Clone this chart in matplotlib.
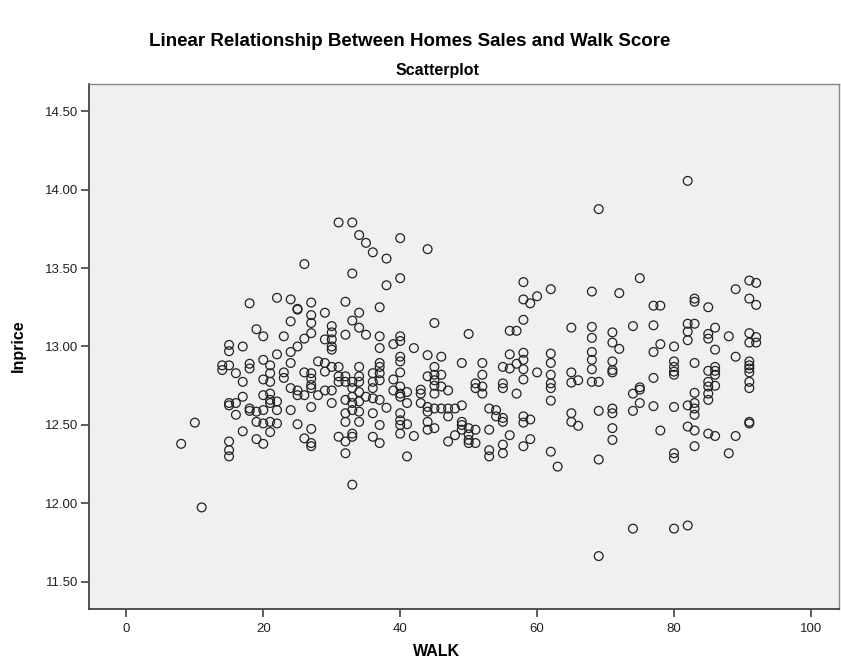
import matplotlib
matplotlib.use("Agg")
import matplotlib.pyplot as plt

# walk score columns and the lnprice values for each column
walk_scores = [8, 10, 11, 14, 15, 16, 17, 18, 19, 20,
               21, 22, 23, 24, 25, 26, 27, 28, 29, 30,
               31, 32, 33, 34, 35, 36, 37, 38, 39, 40,
               41, 42, 43, 44, 45, 46, 47, 48, 49, 50,
               51, 52, 53, 54, 55, 56, 57, 58, 59, 60,
               62, 63, 65, 66, 68, 69, 71, 72, 74, 75,
               77, 78, 80, 82, 83, 85, 86, 88, 89, 91, 92]

lnprice_by_walk = [
    [12.38],
    [12.515],
    [11.975],
    [12.88, 12.85],
    [13.01, 12.97, 12.88, 12.64, 12.625, 12.395, 12.34, 12.30],
    [12.83, 12.64, 12.565],
    [13.00, 12.775, 12.68, 12.46],
    [13.275, 12.89, 12.86, 12.605, 12.59],
    [13.11, 12.585, 12.52, 12.41],
    [13.065, 12.915, 12.79, 12.69, 12.595, 12.51, 12.38],
    [12.88, 12.83, 12.775, 12.70, 12.66, 12.64, 12.52, 12.455],
    [13.31, 12.95, 12.65, 12.595, 12.51],
    [13.065, 12.835, 12.80],
    [13.30, 13.16, 12.965, 12.895, 12.735, 12.595],
    [13.24, 13.235, 13.00, 12.72, 12.69, 12.505],
    [13.525, 13.05, 12.835, 12.69, 12.415],
    [13.28, 13.20, 13.15, 13.085, 12.83, 12.795, 12.755, 12.735, 12.615, 12.475, 12.385, 12.365],
    [12.905, 12.69],
    [13.215, 13.045, 12.895, 12.84, 12.72],
    [13.13, 13.09, 13.045, 13.00, 12.98, 12.87, 12.72, 12.64],
    [13.79, 12.87, 12.81, 12.775, 12.425],
    [13.285, 13.075, 12.81, 12.775, 12.66, 12.575, 12.52, 12.395, 12.32],
    [13.79, 13.465, 13.165, 12.775, 12.735, 12.68, 12.64, 12.595, 12.445, 12.425, 12.12],
    [13.71, 13.215, 13.12, 12.87, 12.81, 12.775, 12.71, 12.65, 12.585, 12.52],
    [13.66, 13.075, 12.68],
    [13.60, 12.83, 12.775, 12.735, 12.67, 12.575, 12.425],
    [13.25, 13.065, 12.99, 12.895, 12.87, 12.83, 12.785, 12.66, 12.50, 12.385],
    [13.56, 13.39, 12.61],
    [13.015, 12.79, 12.72],
    [13.69, 13.435, 13.065, 13.035, 12.935, 12.905, 12.835, 12.745, 12.70, 12.68, 12.575, 12.53, 12.50, 12.445],
    [12.71, 12.64, 12.505, 12.30],
    [12.99, 12.43],
    [12.725, 12.70, 12.64],
    [13.62, 12.945, 12.81, 12.615, 12.585, 12.52, 12.47],
    [13.15, 12.87, 12.82, 12.785, 12.75, 12.70, 12.605, 12.48],
    [12.935, 12.82, 12.745, 12.605],
    [12.72, 12.605, 12.555, 12.395],
    [12.605, 12.435],
    [12.895, 12.625, 12.52, 12.50, 12.47],
    [13.08, 12.48, 12.44, 12.405, 12.385],
    [12.765, 12.735, 12.47, 12.385],
    [12.895, 12.82, 12.745, 12.70],
    [12.605, 12.47, 12.34, 12.30],
    [12.595, 12.555],
    [12.87, 12.765, 12.735, 12.545, 12.52, 12.375, 12.32],
    [13.10, 12.95, 12.86, 12.435],
    [13.10, 12.89, 12.70],
    [13.41, 13.30, 13.17, 12.96, 12.915, 12.855, 12.79, 12.555, 12.515, 12.365],
    [13.275, 12.535, 12.41],
    [13.32, 12.835],
    [13.365, 12.955, 12.895, 12.82, 12.765, 12.735, 12.655, 12.33],
    [12.235],
    [13.12, 12.835, 12.77, 12.575, 12.52],
    [12.785, 12.495],
    [13.35, 13.125, 13.055, 12.965, 12.915, 12.855, 12.775],
    [13.875, 12.775, 12.59, 12.28, 11.665],
    [13.09, 13.025, 12.905, 12.85, 12.835, 12.605, 12.575, 12.48, 12.405],
    [13.34, 12.985],
    [13.13, 12.70, 12.59, 11.84],
    [13.435, 12.74, 12.725, 12.64],
    [13.26, 13.135, 12.965, 12.80, 12.62],
    [13.26, 13.015, 12.465],
    [13.00, 12.905, 12.87, 12.84, 12.82, 12.615, 12.32, 12.29, 11.84],
    [14.055, 13.145, 13.095, 13.04, 12.625, 12.49, 11.86],
    [13.305, 13.285, 13.145, 12.895, 12.705, 12.64, 12.605, 12.565, 12.465, 12.365],
    [13.25, 13.08, 13.05, 12.845, 12.775, 12.745, 12.70, 12.66, 12.445],
    [13.12, 12.98, 12.87, 12.845, 12.82, 12.75, 12.43],
    [13.065, 12.32],
    [13.365, 12.935, 12.43],
    [13.42, 13.305, 13.085, 13.025, 12.905, 12.88, 12.86, 12.835, 12.775, 12.735, 12.52, 12.51],
    [13.405, 13.265, 13.06, 13.025],
]

x_ticks = [0, 20, 40, 60, 80, 100]
y_ticks = [11.5, 12.0, 12.5, 13.0, 13.5, 14.0, 14.5]

walk = []
lnprice = []
for w, vals in zip(walk_scores, lnprice_by_walk):
    for v in vals:
        walk.append(w)
        lnprice.append(v)

plt.rcParams['font.family'] = ['Liberation Sans', 'DejaVu Sans']

W, H = 841, 670
fig = plt.figure(figsize=(W / 100, H / 100), dpi=100)
ax = fig.add_axes([89 / W, 1 - 609 / H, (839 - 89) / W, (609 - 84) / H])
ax.set_facecolor('#f0f0f0')

ax.scatter(walk, lnprice, s=40, facecolors='none', edgecolors='#222222',
           linewidths=0.9, zorder=3)

ax.set_xlim(-5.46, 104.1)
ax.set_ylim(11.328, 14.672)
ax.set_xticks(x_ticks)
ax.set_yticks(y_ticks)
ax.set_yticklabels([f"{t:.2f}" for t in y_ticks])

for side in ['top', 'right']:
    ax.spines[side].set_color('#888888')
    ax.spines[side].set_linewidth(1.0)
for side in ['left', 'bottom']:
    ax.spines[side].set_color('#444444')
    ax.spines[side].set_linewidth(1.3)

ax.tick_params(axis='both', direction='out', length=6, width=1.2,
               color='#444444', labelsize=9.5, labelcolor='#222222')
ax.tick_params(axis='x', pad=4)
ax.tick_params(axis='y', pad=2)

fig.text(410 / W, 1 - 42 / H, "Linear Relationship Between Homes Sales and Walk Score",
         ha='center', va='center', fontsize=13.5, fontweight='bold')
fig.text(437 / W, 1 - 70 / H, "Scatterplot", ha='center', va='center',
         fontsize=11.5, fontweight='bold')
fig.text(437 / W, 1 - 652 / H, "WALK", ha='center', va='center',
         fontsize=11.5, fontweight='bold')
fig.text(18 / W, 1 - 346 / H, "lnprice", ha='center', va='center',
         rotation=90, fontsize=11.5, fontweight='bold')

fig.savefig('out.png', dpi=100)
